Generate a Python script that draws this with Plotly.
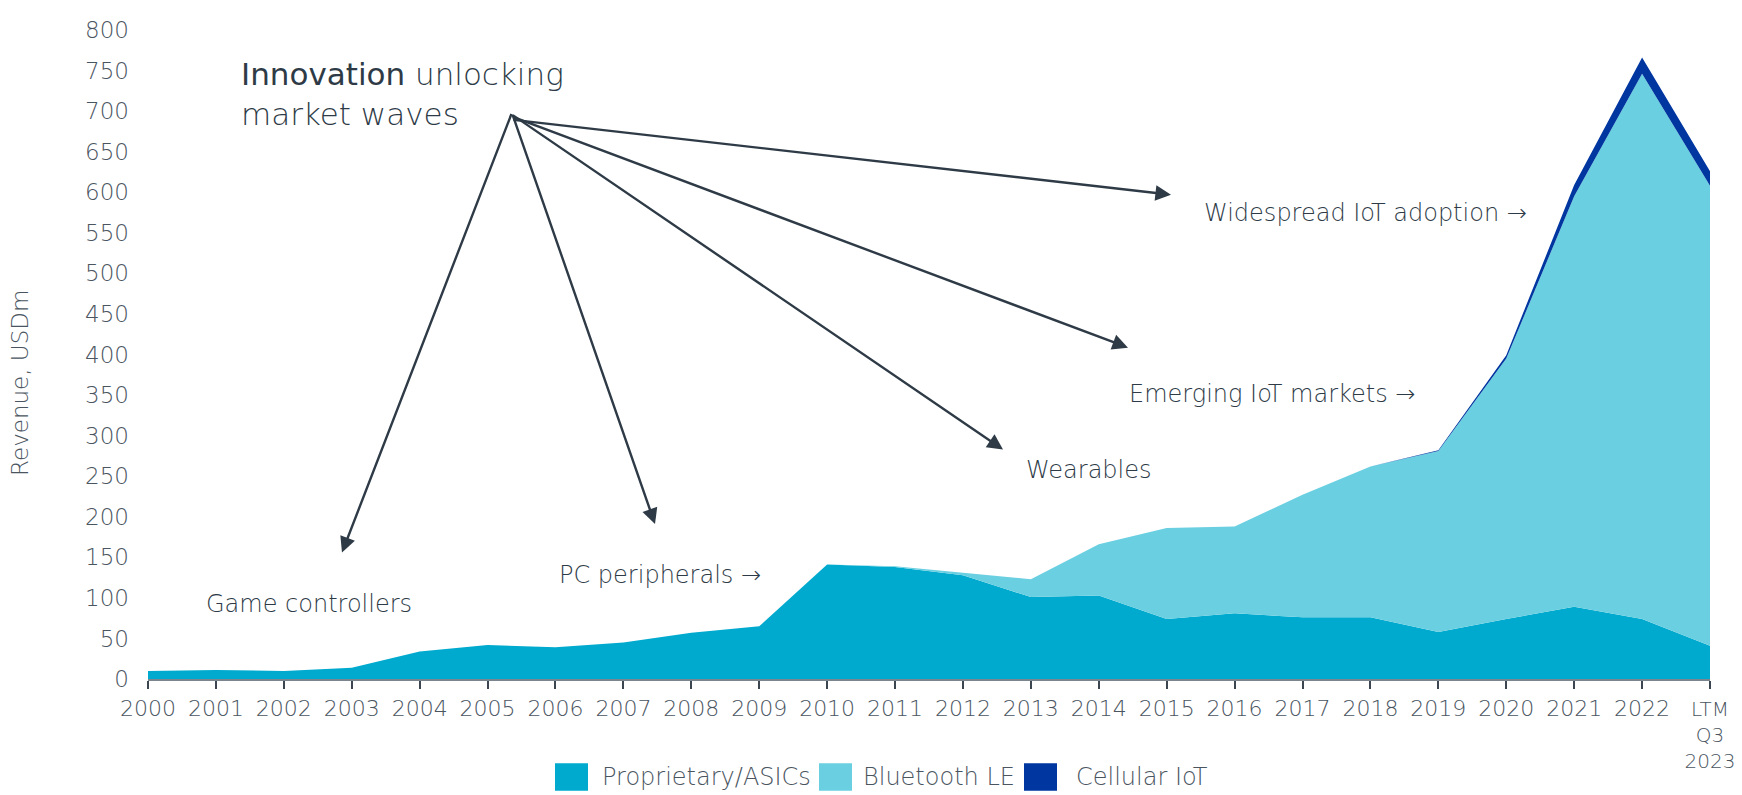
import plotly.graph_objects as go

categories = [str(y) for y in range(2000, 2023)] + ["LTM<br>Q3<br>2023"]
proprietary = [10, 11, 10, 14, 34, 42, 39, 45, 57, 65, 141, 138, 128, 101, 103, 74, 81, 76, 76, 58, 74, 89, 74, 41]
bluetooth_le = [0, 0, 0, 0, 0, 0, 0, 0, 0, 0, 0, 1, 3, 22, 63, 112, 107, 151, 186, 223, 321, 506, 672, 567]
cellular_iot = [0, 0, 0, 0, 0, 0, 0, 0, 0, 0, 0, 0, 0, 0, 0, 0, 0, 0, 0, 1, 4, 14, 20, 18]
series_names = ["Proprietary/ASICs", "Bluetooth LE", "Cellular IoT"]
y_ticks = list(range(0, 801, 50))

COLORS = ["#00AACE", "#6ACFE1", "#0036A0"]
TXT = "#2E3B47"
TICK = "#4A555F"
FONT = "DejaVu Sans"
W, H = 1742, 795
L, R, T, B = 140, 1702, 9, 671


def px(x):
    return (x - L) / (R - L)


def py(y):
    return (B - y) / (B - T)


fig = go.Figure()
for name, vals, col in zip(series_names, [proprietary, bluetooth_le, cellular_iot], COLORS):
    fig.add_trace(go.Scatter(x=categories, y=vals, name=name, mode="lines",
                             stackgroup="one", line=dict(width=0, color=col),
                             fillcolor=col, showlegend=False, hoverinfo="skip"))

# arrows from the headline to each wave label
origin = (504, 102)
tips = [(334, 542), (647, 513), (995, 437), (1120, 333), (1163, 177)]
for tx, ty in tips:
    fig.add_annotation(x=px(tx), y=py(ty), xref="paper", yref="paper",
                       ax=origin[0] - tx, ay=origin[1] - ty, text="", showarrow=True,
                       arrowhead=2, arrowsize=1.3, arrowwidth=2.4, arrowcolor=TXT, standoff=0)

labels = [("Game controllers", 196, 594), ("PC peripherals →", 549, 565), ("Wearables", 1016, 458),
          ("Emerging IoT markets →", 1119, 380), ("Widespread IoT adoption →", 1194, 196)]
for txt, lx, ly in labels:
    fig.add_annotation(x=px(lx), y=py(ly), xref="paper", yref="paper",
                       text=txt, showarrow=False, xanchor="left", yanchor="middle",
                       font=dict(size=24, color=TXT, family=FONT, weight=200))

fig.add_annotation(x=px(231), y=py(74), xref="paper", yref="paper",
                   text="<span style='font-weight:400'>Innovation</span> unlocking<br>market waves",
                   showarrow=False, xanchor="left", yanchor="middle", align="left",
                   font=dict(size=31, color=TXT, family=FONT, weight=200))

fig.add_annotation(x=px(12), y=py(369), xref="paper", yref="paper", text="Revenue, USDm",
                   textangle=-90, showarrow=False, xanchor="center", yanchor="middle",
                   font=dict(size=23, color=TICK, family=FONT, weight=200))

# legend (squares + labels)
legend_items = [(547, 592), (811, 853), (1016, 1066)]
for (sx, tx), name, col in zip(legend_items, series_names, COLORS):
    fig.add_shape(type="rect", xref="paper", yref="paper", x0=px(sx), x1=px(sx + 33),
                  y0=py(757), y1=py(785), fillcolor=col, line=dict(width=0))
    fig.add_annotation(x=px(tx), y=py(771), xref="paper", yref="paper", text=name,
                       showarrow=False, xanchor="left", yanchor="middle",
                       font=dict(size=24, color=TICK, family=FONT, weight=200))

tick_text = ["<span style='font-size:%dpx'>%s</span>" % (20 if "LTM" in c else 22, c) for c in categories]

fig.update_layout(
    width=W, height=H,
    margin=dict(l=L, r=W - R, t=T, b=H - B),
    paper_bgcolor="white", plot_bgcolor="white",
    font=dict(family=FONT, color=TXT, size=20, weight=200),
    showlegend=False,
    xaxis=dict(range=[0, len(categories) - 1], showgrid=False, showline=True, linecolor="#7A858E",
               linewidth=2, ticks="outside", ticklen=8, tickcolor="#3C4650", tickwidth=2,
               tickmode="array", tickvals=categories, ticktext=tick_text,
               tickfont=dict(size=20, color=TICK, family=FONT, weight=200), tickangle=0,
               ticklabelstandoff=3, ticklabeloverflow="allow", fixedrange=True),
    yaxis=dict(range=[0, 800], tickvals=y_ticks, showgrid=False, zeroline=False, showline=False,
               tickfont=dict(size=23, color=TICK, family=FONT, weight=200), ticks="",
               ticklabelstandoff=18, ticklabeloverflow="allow"),
)

fig.write_html("out.html", post_script="document.body.style.overflow='hidden';")
